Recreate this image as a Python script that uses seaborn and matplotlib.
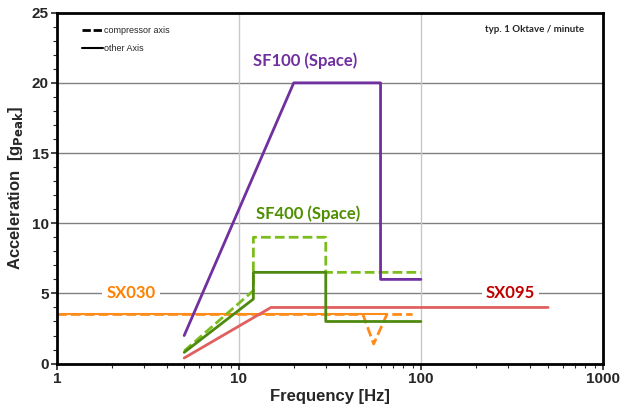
import matplotlib
matplotlib.use("Agg")
import matplotlib.pyplot as plt
from matplotlib.lines import Line2D
import seaborn as sns
import pandas as pd

# ---- data ----
sf100_f = [5, 20, 60, 60, 100]
sf100_g = [2, 20, 20, 6, 6]

sf400_solid_f = [5, 12, 12, 30, 30, 100]
sf400_solid_g = [0.8, 4.6, 6.5, 6.5, 3.0, 3.0]

sf400_dash_f = [5, 12, 12, 30, 30, 100]
sf400_dash_g = [0.9, 5.2, 9.0, 9.0, 6.5, 6.5]

sx095_f = [5, 15, 500]
sx095_g = [0.4, 4.0, 4.0]

sx030_solid_f = [1, 65]
sx030_solid_g = [3.5, 3.5]

sx030_dash_f = [1, 48, 55, 65, 90]
sx030_dash_g = [3.5, 3.5, 1.4, 3.5, 3.5]

x_ticks = [1, 10, 100, 1000]
y_ticks = [0, 5, 10, 15, 20, 25]

sns.set_style("white")
plt.rcParams['font.family'] = ['Liberation Sans', 'DejaVu Sans']
plt.rcParams['mathtext.default'] = 'bf'

fig = plt.figure(figsize=(6.21, 4.09), dpi=100)
ax = fig.add_axes([0.0918, 0.111, 0.879, 0.858])
ax.set_xscale('log')
ax.set_xlim(1, 1000)
ax.set_ylim(0, 25)

# grid
for y in [5, 10, 15, 20]:
    ax.axhline(y, color='#808080', lw=1.0, zorder=0)
for x in [10, 100]:
    ax.axvline(x, color='#c8c8c8', lw=1.0, zorder=0)

def draw(f, g, color, ls='-', lw=2.0, z=3):
    df = pd.DataFrame({'f': f, 'g': g})
    sns.lineplot(data=df, x='f', y='g', estimator=None, sort=False, ax=ax,
                 color=color, linestyle=ls, linewidth=lw, zorder=z)

purple = '#7030a0'
dgreen = '#4f8a10'
lgreen = '#7cbd1e'
red = '#e06060'
orange = '#ff8c1a'

draw(sx030_solid_f, sx030_solid_g, orange, '-', 1.5, 2)
draw(sx030_dash_f, sx030_dash_g, orange, (0, (3.5, 1.5)), 2.0, 2)
draw(sx095_f, sx095_g, red, '-', 2.0, 3)
draw(sf400_dash_f, sf400_dash_g, lgreen, (0, (3.5, 1.5)), 2.0, 3)
draw(sf400_solid_f, sf400_solid_g, dgreen, '-', 2.0, 4)
draw(sf100_f, sf100_g, purple, '-', 2.0, 4)

# labels
lab_font = ['Lato', 'DejaVu Sans']
ax.text(23, 21.6, 'SF100 (Space)', color=purple, fontsize=12, fontweight='bold',
        family=lab_font, ha='center', va='center')
ax.text(24, 10.7, 'SF400 (Space)', color='#4e8f00', fontsize=12, fontweight='bold',
        family=lab_font, ha='center', va='center')
ax.text(2.55, 5.0, 'SX030', color='#ff8000', fontsize=12, fontweight='bold',
        family=lab_font, ha='center', va='center', zorder=1,
        bbox=dict(facecolor='white', edgecolor='none', pad=3))
ax.text(310, 5.0, 'SX095', color='#c00000', fontsize=12, fontweight='bold',
        family=lab_font, ha='center', va='center', zorder=1,
        bbox=dict(facecolor='white', edgecolor='none', pad=3))
ax.text(0.965, 0.965, 'typ. 1 Oktave / minute', transform=ax.transAxes,
        fontsize=7, fontweight='bold', family=lab_font, ha='right', va='top')

handles = [Line2D([], [], color='black', ls=(0, (3, 1)), lw=2),
           Line2D([], [], color='black', ls='-', lw=1.5)]
ax.legend(handles, ['compressor axis', 'other Axis'], loc='upper left',
          bbox_to_anchor=(0.03, 0.985), frameon=False, fontsize=6.5,
          handlelength=2.4, handletextpad=0.1, labelspacing=1.0)

# axes styling
ax.set_xticks(x_ticks)
ax.set_xticklabels([str(v) for v in x_ticks])
ax.set_yticks(y_ticks)
ax.set_yticklabels([str(v) for v in y_ticks])
ax.yaxis.set_minor_locator(matplotlib.ticker.MultipleLocator(1))
ax.tick_params(axis='both', which='major', labelsize=11, length=4, width=1.2,
               direction='out', bottom=True, left=True, pad=2)
ax.tick_params(axis='both', which='minor', length=3, width=0.8,
               direction='out', bottom=True, left=True)
for lbl in ax.get_xticklabels() + ax.get_yticklabels():
    lbl.set_fontweight('bold')
for s in ax.spines.values():
    s.set_linewidth(2)
    s.set_color('black')

ax.set_xlabel('Frequency [Hz]', fontsize=12, fontweight='bold', labelpad=2)
ax.set_ylabel('Acceleration  [g$_{Peak}$]', fontsize=12, fontweight='bold', labelpad=5)

fig.savefig('out.png', dpi=100)
